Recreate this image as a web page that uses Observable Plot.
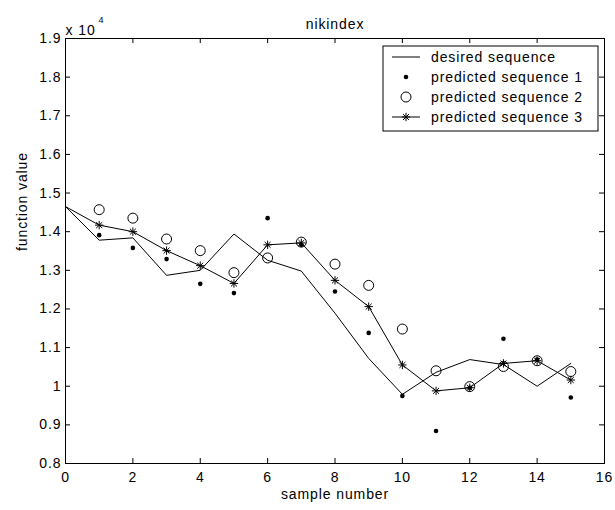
<!DOCTYPE html>
<html>
<head>
<meta charset="utf-8">
<script src="https://cdn.jsdelivr.net/npm/d3@7"></script>
<script src="https://cdn.jsdelivr.net/npm/@observablehq/plot@0.6"></script>
<style>
  html, body { margin: 0; padding: 0; background: #fff; }
  #chart { width: 615px; height: 510px; }
</style>
</head>
<body>
<div id="chart"></div>
<script>
// ---- data (values in absolute units; axis shows x 10^4) ----
const sampleNumber = [0, 1, 2, 3, 4, 5, 6, 7, 8, 9, 10, 11, 12, 13, 14, 15];
const desiredSeq   = [14650, 13780, 13840, 12870, 13000, 13940, 13260, 12980, 11890, 10720, 9790, 10360, 10690, 10560, 10000, 10590];
const predictedX   = [1, 2, 3, 4, 5, 6, 7, 8, 9, 10, 11, 12, 13, 14, 15];
const predicted1   = [13910, 13580, 13290, 12650, 12410, 14350, 13660, 12450, 11380, 9750, 8840, 9960, 11230, 10690, 9710];
const predicted2   = [14570, 14350, 13810, 13510, 12940, 13320, 13730, 13160, 12610, 11480, 10400, 9990, 10510, 10660, 10380];
const predicted3   = [14170, 14000, 13510, 13120, 12660, 13660, 13710, 12740, 12060, 10550, 9880, 9960, 10590, 10660, 10160];
const xTicks = [0, 2, 4, 6, 8, 10, 12, 14, 16];
const yTicks = [8000, 9000, 10000, 11000, 12000, 13000, 14000, 15000, 16000, 17000, 18000, 19000];
const titleText = "nikindex";
const xLabel = "sample number";
const yLabel = "function value";
const legendLabels = ["desired sequence", "predicted sequence 1", "predicted sequence 2", "predicted sequence 3"];

// ---- build tables ----
const desired = sampleNumber.map((x, i) => ({x, y: desiredSeq[i]}));
const p1 = predictedX.map((x, i) => ({x, y: predicted1[i]}));
const p2 = predictedX.map((x, i) => ({x, y: predicted2[i]}));
const p3 = predictedX.map((x, i) => ({x, y: predicted3[i]}));
const p3line = [{x: sampleNumber[0], y: desiredSeq[0]}, ...p3];

// MATLAB-like '*' marker: plus + times
const starSymbol = {
  draw(ctx, size) {
    const r = Math.sqrt(size / Math.PI);
    const d = r * Math.SQRT1_2;
    ctx.moveTo(-r, 0); ctx.lineTo(r, 0);
    ctx.moveTo(0, -r); ctx.lineTo(0, r);
    ctx.moveTo(-d, -d); ctx.lineTo(d, d);
    ctx.moveTo(-d, d); ctx.lineTo(d, -d);
  }
};

const font = "'Liberation Sans', Arial, Helvetica, sans-serif";
const W = 615, H = 510, mL = 65, mR = 11, mT = 38, mB = 47;
const innerW = W - mL - mR, innerH = H - mT - mB, tick = 5;

const chart = Plot.plot({
  width: W, height: H,
  marginLeft: mL, marginRight: mR, marginTop: mT, marginBottom: mB,
  style: {fontFamily: font, fontSize: "14px", background: "#fff", color: "#000", letterSpacing: "0.9px", overflow: "visible"},
  x: {domain: [0, 16]},
  y: {domain: [8000, 19000]},
  marks: [
    Plot.axisX({ticks: xTicks, tickSize: 0, tickPadding: 9, label: null, fontSize: 14}),
    Plot.axisY({ticks: yTicks, tickSize: 0, tickPadding: 4, label: null, fontSize: 14, tickFormat: d => String(d / 10000)}),
    Plot.tickX(xTicks, {x: d => d, insetTop: innerH - tick, stroke: "#000"}),
    Plot.tickX(xTicks, {x: d => d, insetBottom: innerH - tick, stroke: "#000"}),
    Plot.tickY(yTicks, {y: d => d, insetRight: innerW - tick, stroke: "#000"}),
    Plot.tickY(yTicks, {y: d => d, insetLeft: innerW - tick, stroke: "#000"}),
    Plot.line(desired, {x: "x", y: "y", stroke: "#000", strokeWidth: 1}),
    Plot.line(p3line, {x: "x", y: "y", stroke: "#000", strokeWidth: 1}),
    Plot.dot(p1, {x: "x", y: "y", r: 2.3, fill: "#000", stroke: null}),
    Plot.dot(p2, {x: "x", y: "y", r: 5, fill: "none", stroke: "#000", strokeWidth: 1}),
    Plot.dot(p3, {x: "x", y: "y", r: 4.2, symbol: starSymbol, fill: "none", stroke: "#000", strokeWidth: 1}),
    Plot.frame({stroke: "#000", strokeWidth: 1}),
    Plot.text([titleText], {frameAnchor: "top", dy: -19, fontSize: 14}),
    Plot.text(["x 10"], {frameAnchor: "top-left", textAnchor: "start", dy: -13, dx: 0, fontSize: 14}),
    Plot.text(["4"], {frameAnchor: "top-left", textAnchor: "start", dy: -22, dx: 33, fontSize: 9}),
    Plot.text([xLabel], {frameAnchor: "bottom", dy: 35, fontSize: 14}),
    Plot.text([yLabel], {frameAnchor: "left", rotate: -90, dx: -43, fontSize: 14})
  ]
});
document.getElementById("chart").appendChild(chart);

// ---- legend (inside the axes, top-right) ----
const svg = d3.select(chart);
const lg = svg.append("g").attr("font-family", font).attr("font-size", 14).attr("text-anchor", "start");
const box = {x: 383, y: 46, w: 215, h: 85};
lg.append("rect").attr("x", box.x).attr("y", box.y).attr("width", box.w).attr("height", box.h)
  .attr("fill", "#fff").attr("stroke", "#000").attr("stroke-width", 1);
const rowBase = [62, 82, 102, 122];
const symX = 406;
legendLabels.forEach((lab, i) => {
  const cy = rowBase[i] - 5;
  lg.append("text").attr("x", 431).attr("y", rowBase[i]).attr("fill", "#000").attr("text-anchor", "start").text(lab);
  if (i === 0 || i === 3) {
    lg.append("line").attr("x1", 392).attr("x2", 420).attr("y1", cy).attr("y2", cy).attr("stroke", "#000");
  }
  if (i === 1) lg.append("circle").attr("cx", symX).attr("cy", cy).attr("r", 2.3).attr("fill", "#000");
  if (i === 2) lg.append("circle").attr("cx", symX).attr("cy", cy).attr("r", 5).attr("fill", "none").attr("stroke", "#000");
  if (i === 3) {
    const p = d3.path(); starSymbol.draw(p, Math.PI * 4.2 * 4.2);
    lg.append("path").attr("transform", `translate(${symX},${cy})`).attr("d", p.toString()).attr("fill", "none").attr("stroke", "#000");
  }
});
</script>
</body>
</html>
